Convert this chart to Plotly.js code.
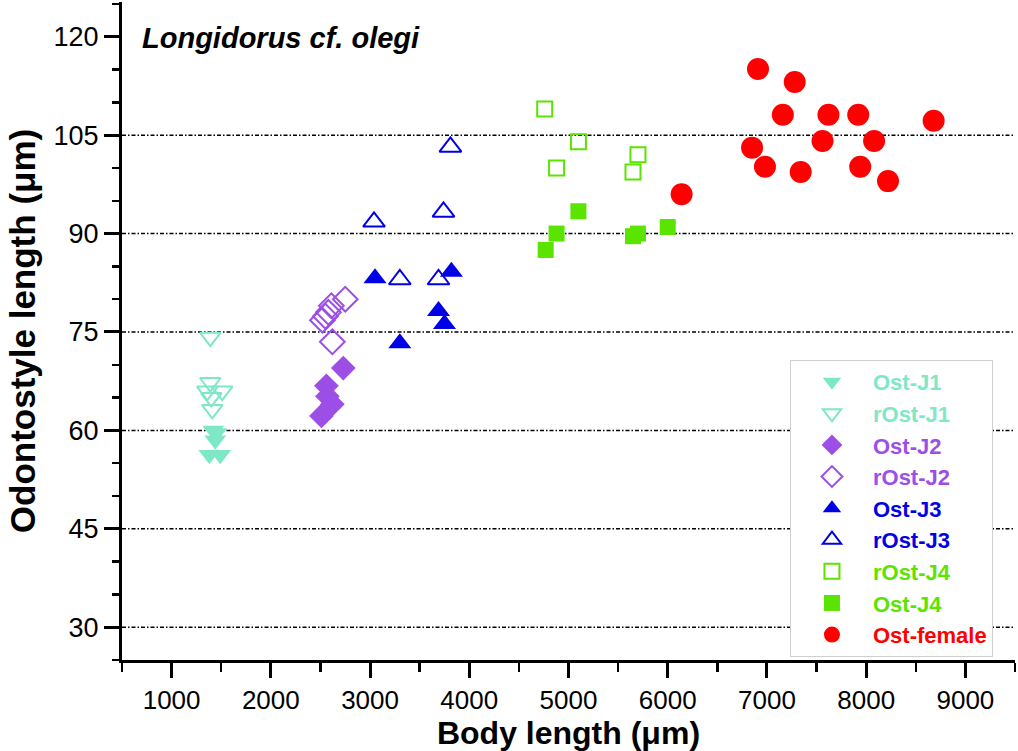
<!DOCTYPE html>
<html><head><meta charset="utf-8">
<script src="https://cdn.plot.ly/plotly-3.0.1.min.js"></script>
<style>html,body{margin:0;padding:0;background:#fff}#c{width:1018px;height:751px}</style>
</head><body><div id="c"></div>
<script>
// Data (Body length µm, Odontostyle length µm)
const ostJ1_x = [1380, 1490, 1440, 1420, 1450];
const ostJ1_y = [56.3, 56.3, 58.5, 60.0, 59.6];
const rostJ1_x = [1390, 1390, 1360, 1510, 1400, 1410];
const rostJ1_y = [74.2, 67.3, 66.0, 66.0, 65.0, 63.2];
const ostJ2_x = [2730, 2560, 2570, 2620, 2510];
const ostJ2_y = [69.5, 66.8, 65.2, 64.0, 62.2];
const rostJ2_x = [2750, 2610, 2580, 2550, 2520, 2620];
const rostJ2_y = [80.0, 79.0, 78.0, 77.4, 76.8, 73.5];
const ostJ3_x = [3050, 3820, 3690, 3750, 3300];
const ostJ3_y = [83.2, 84.2, 78.2, 76.2, 73.3];
const rostJ3_x = [3810, 3740, 3040, 3300, 3690];
const rostJ3_y = [103.2, 93.3, 91.8, 83.0, 83.0];
const rostJ4_x = [4760, 5100, 4880, 5700, 5650];
const rostJ4_y = [109.0, 104.0, 100.0, 102.0, 99.4];
const ostJ4_x = [5100, 4880, 4770, 5700, 5650, 6000];
const ostJ4_y = [93.4, 90.0, 87.5, 90.0, 89.6, 91.0];
const female_x = [6910, 7280, 7160, 7620, 7920, 8680, 6850, 7560, 8080, 6980, 7340, 7940, 8220, 6140];
const female_y = [115.1, 113.1, 108.1, 108.1, 108.1, 107.2, 103.1, 104.1, 104.1, 100.2, 99.4, 100.2, 98.0, 96.0];
const gridValues = [30, 45, 60, 75, 90, 105];
const yTicks = [30, 45, 60, 75, 90, 105, 120];
const xTicks = [1000, 2000, 3000, 4000, 5000, 6000, 7000, 8000, 9000];

const C1 = '#7ee8c6', C2 = '#9c4ee6', C3 = '#0000e6', C4 = '#5ae400', C5 = '#ff0000';
function nm(t, c) { return '<b><span style="color:' + c + '">' + t + '</span></b>'; }
function tr(x, y, name, color, symbol, size, open) {
  return {
    type: 'scatter', mode: 'markers', x: x, y: y, name: nm(name, color),
    marker: {
      symbol: symbol, size: size, color: color,
      line: { color: color, width: open ? 2 : 0 }
    }
  };
}
const data = [
  tr(ostJ1_x, ostJ1_y, 'Ost-J1', C1, 'triangle-down', 19, false),
  tr(rostJ1_x, rostJ1_y, 'rOst-J1', C1, 'triangle-down-open', 18, true),
  tr(ostJ2_x, ostJ2_y, 'Ost-J2', C2, 'diamond', 19, false),
  tr(rostJ2_x, rostJ2_y, 'rOst-J2', C2, 'diamond-open', 19, true),
  tr(ostJ3_x, ostJ3_y, 'Ost-J3', C3, 'triangle-up', 20, false),
  tr(rostJ3_x, rostJ3_y, 'rOst-J3', C3, 'triangle-up-open', 19, true),
  tr(rostJ4_x, rostJ4_y, 'rOst-J4', C4, 'square-open', 15, true),
  tr(ostJ4_x, ostJ4_y, 'Ost-J4', C4, 'square', 16, false),
  tr(female_x, female_y, 'Ost-female', C5, 'circle', 22, false)
];
const shapes = gridValues.map(v => ({
  type: 'line', xref: 'paper', x0: 0, x1: 1, yref: 'y', y0: v, y1: v,
  line: { color: '#000', width: 1.5, dash: '4px,2px,1.5px,2px' }, layer: 'below'
}));
const layout = {
  width: 1018, height: 751,
  margin: { l: 122, r: 3, t: 2, b: 91 },
  paper_bgcolor: '#fff', plot_bgcolor: '#fff',
  font: { family: 'Liberation Sans, Arial, sans-serif', color: '#000' },
  showlegend: true,
  legend: {
    x: 0.748, y: 0.456, xanchor: 'left', yanchor: 'top',
    bordercolor: '#cfcfcf', borderwidth: 1, bgcolor: '#fff',
    font: { size: 22, family: 'Liberation Sans, Arial, sans-serif' },
    itemwidth: 72, tracegroupgap: 0
  },
  xaxis: {
    range: [500, 9500], tickvals: xTicks, ticktext: xTicks.map(String),
    showgrid: false, zeroline: false,
    showline: true, linecolor: '#000', linewidth: 3,
    ticks: 'outside', ticklen: 15, tickwidth: 3, tickcolor: '#000',
    minor: { dtick: 500, ticks: 'outside', ticklen: 9, tickwidth: 2.5, tickcolor: '#000', showgrid: false },
    tickfont: { size: 26, color: '#000' },
    title: { text: '<b>Body length (μm)</b>', font: { size: 32 }, standoff: 6 }
  },
  yaxis: {
    range: [25, 125.3], tickvals: yTicks, ticktext: yTicks.map(String),
    showgrid: false, zeroline: false,
    showline: true, linecolor: '#000', linewidth: 3,
    ticks: 'outside', ticklen: 15, tickwidth: 3, tickcolor: '#000',
    minor: { dtick: 5, tick0: 0, ticks: 'outside', ticklen: 7, tickwidth: 2.5, tickcolor: '#000', showgrid: false },
    tickfont: { size: 27, color: '#000' },
    title: { text: '<b>Odontostyle length (μm)</b>', font: { size: 35 }, standoff: 8 }
  },
  shapes: shapes,
  annotations: [{
    xref: 'paper', yref: 'paper', x: 0.02, y: 0.945, xanchor: 'left', yanchor: 'middle',
    text: '<b><i>Longidorus cf. olegi</i></b>', showarrow: false,
    font: { size: 29, color: '#000' }
  }]
};
Plotly.newPlot('c', data, layout, { displayModeBar: false, staticPlot: true });
</script></body></html>
